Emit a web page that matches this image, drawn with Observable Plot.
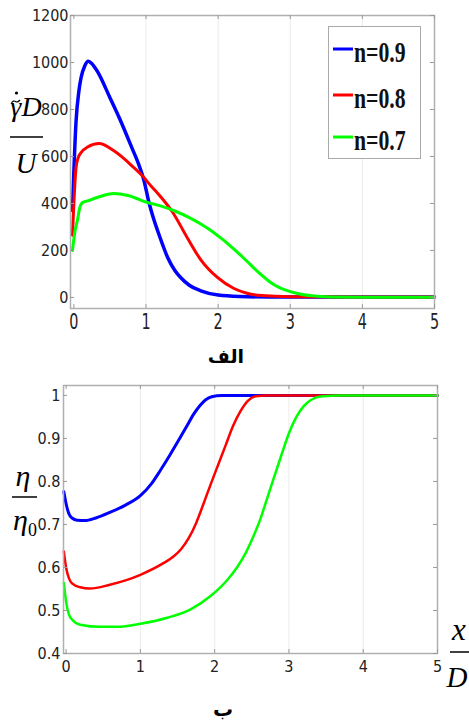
<!DOCTYPE html>
<html><head><meta charset="utf-8">
<script src="https://cdn.jsdelivr.net/npm/d3@7"></script>
<script src="https://cdn.jsdelivr.net/npm/@observablehq/plot@0.6"></script>
<style>
body{margin:0;background:#fff;}
#wrap{position:relative;width:469px;height:725px;overflow:hidden;background:#fff;}
#wrap > svg{position:absolute;left:0;}
</style></head><body><div id="wrap"></div>
<script>
// ---- data ----
const xTicks = [0, 1, 2, 3, 4, 5];
const gridX = [1, 2, 3, 4];
const shearTicks = [0, 200, 400, 600, 800, 1000, 1200];
const viscTicks = [0.4, 0.5, 0.6, 0.7, 0.8, 0.9, 1];
const seriesNames = ["n=0.9", "n=0.8", "n=0.7"];
const seriesColors = ["#0000ff", "#ff0000", "#00ff00"];

// top panel: dimensionless shear rate vs x/D
const shear09 = [[-0.02,370],[0.03,750],[0.07,880],[0.1,936],[0.15,985],[0.2,1005],[0.25,995],[0.33,960],[0.5,850],[0.65,750],[0.8,640],[0.9,565],[0.97,500],[1.04,405],[1.1,340],[1.16,285],[1.23,225],[1.3,170],[1.4,115],[1.48,85],[1.6,52],[1.76,28],[2.0,10],[2.3,4],[2.7,2],[5,2]];
const shear08 = [[-0.02,265],[0.03,553],[0.06,595],[0.1,617],[0.19,640],[0.35,655],[0.55,625],[0.83,553],[0.97,511],[1.02,492],[1.2,430],[1.36,367],[1.58,250],[1.76,160],[1.99,85],[2.22,38],[2.4,18],[2.6,8],[3.0,3],[5,2]];
const shear07 = [[-0.02,200],[0.02,290],[0.05,330],[0.08,380],[0.12,404],[0.2,412],[0.28,421],[0.4,433],[0.55,442],[0.75,434],[1.02,404],[1.2,390],[1.4,368],[1.6,340],[1.76,313],[1.9,285],[2.0,262],[2.1,238],[2.2,211],[2.3,183],[2.4,154],[2.5,124],[2.6,96],[2.7,70],[2.8,50],[2.9,35],[3.0,25],[3.15,14],[3.3,7],[3.56,2],[4,1],[5,1]];

// bottom panel: viscosity ratio vs x/D
const visc09 = [[-0.03,0.776],[0,0.748],[0.04,0.724],[0.08,0.715],[0.15,0.71],[0.25,0.709],[0.4,0.715],[0.59,0.728],[0.8,0.745],[1.0,0.767],[1.15,0.795],[1.27,0.826],[1.4,0.862],[1.54,0.903],[1.63,0.93],[1.72,0.957],[1.8,0.976],[1.88,0.99],[1.96,0.997],[2.1,1.0],[5,1.0]];
const visc08 = [[-0.03,0.637],[0,0.6],[0.04,0.574],[0.08,0.563],[0.19,0.554],[0.32,0.551],[0.59,0.56],[0.8,0.57],[1.0,0.583],[1.31,0.61],[1.45,0.626],[1.55,0.643],[1.65,0.668],[1.75,0.703],[1.85,0.748],[1.95,0.795],[2.05,0.84],[2.15,0.885],[2.25,0.93],[2.35,0.964],[2.45,0.988],[2.55,0.998],[2.7,1.0],[5,1.0]];
const visc07 = [[-0.03,0.564],[0,0.52],[0.04,0.49],[0.08,0.479],[0.19,0.467],[0.46,0.462],[0.69,0.462],[1.0,0.469],[1.36,0.483],[1.67,0.502],[1.94,0.533],[2.17,0.571],[2.3,0.6],[2.4,0.628],[2.5,0.664],[2.61,0.71],[2.7,0.757],[2.8,0.81],[2.9,0.862],[3.0,0.912],[3.1,0.95],[3.2,0.975],[3.3,0.99],[3.45,0.998],[3.7,1.0],[5,1.0]];

const topLabel = "الف";
const bottomLabel = "ب";

// ---- drawing ----
const W = 469;
const wrap = document.getElementById("wrap");
const tickFont = "'Liberation Sans Narrow','Arial Narrow','DejaVu Sans Condensed',sans-serif";
const rows = (arr) => arr.map(([x, y]) => ({x, y}));

function panel({h, m, xDomain, yDomain, yTicks, series, widths}) {
  const iw = W - m.left - m.right, ih = h - m.top - m.bottom;
  const marks = [Plot.ruleX(gridX, {stroke: "#ebebeb", strokeWidth: 1})];
  series.forEach((s, i) => marks.push(Plot.line(rows(s), {x: "x", y: "y", stroke: seriesColors[i], strokeWidth: widths[i], curve: "monotone-x"})));
  marks.push(
    Plot.frame({stroke: "#b0b0b0", strokeWidth: 1.5}),
    Plot.tickX(xTicks, {x: d => d, stroke: "#999", insetBottom: ih - 4}),
    Plot.tickX(xTicks, {x: d => d, stroke: "#999", insetTop: ih - 4}),
    Plot.tickY(yTicks, {y: d => d, stroke: "#999", insetLeft: iw - 4}),
    Plot.tickY(yTicks, {y: d => d, stroke: "#999", insetRight: iw - 4}),
    Plot.axisX(xTicks, {tickSize: 0, tickPadding: m.xPad, label: null, tickFormat: d => String(d)}),
    Plot.axisY(yTicks, {tickSize: 0, tickPadding: m.yPad, label: null, tickFormat: d => String(d)})
  );
  return Plot.plot({
    width: W, height: h,
    marginTop: m.top, marginBottom: m.bottom, marginLeft: m.left, marginRight: m.right,
    x: {domain: xDomain}, y: {domain: yDomain},
    style: {fontFamily: tickFont, fontSize: "16px", color: "#222", background: "transparent", overflow: "visible"},
    marks
  });
}

const topPlot = panel({h: 340, m: {top: 15, bottom: 32, left: 70, right: 35, xPad: 4, yPad: 2},
  xDomain: [-0.047, 5], yDomain: [-47, 1200], yTicks: shearTicks,
  series: [shear09, shear08, shear07], widths: [3.5, 3, 3]});
topPlot.style.top = "0px";
wrap.appendChild(topPlot);
// the reference's top-panel x tick labels are vertically stretched
topPlot.querySelectorAll('[aria-label^="x-axis"] text').forEach(t => {
  const b = t.getBBox();
  const cx = b.x + b.width / 2, ty = b.y + 1;
  const tr = t.getAttribute("transform") || "";
  t.setAttribute("transform", `${tr} translate(${cx},${ty}) scale(1,1.38) translate(${-cx},${-ty})`);
});

const botPlot = panel({h: 320, m: {top: 15, bottom: 37, left: 63, right: 32, xPad: 7, yPad: 3},
  xDomain: [-0.035, 5], yDomain: [0.4, 1.023], yTicks: viscTicks,
  series: [visc09, visc08, visc07], widths: [3, 2.5, 2.5]});
botPlot.style.top = "370px";
wrap.appendChild(botPlot);

// ---- overlay: legend, axis titles, panel labels ----
const ov = d3.select(wrap).append("svg").attr("width", W).attr("height", 725)
  .style("top", "0px").style("pointer-events", "none");
const serif = "'Liberation Serif','DejaVu Serif',serif";

// legend
const lg = ov.append("g");
lg.append("rect").attr("x", 328.5).attr("y", 26.5).attr("width", 92).attr("height", 132)
  .attr("fill", "#fff").attr("stroke", "#aaa").attr("stroke-width", 1);
const legY = [49, 95, 137];
seriesNames.forEach((name, i) => {
  lg.append("line").attr("x1", 333).attr("x2", 353).attr("y1", legY[i]).attr("y2", legY[i])
    .attr("stroke", seriesColors[i]).attr("stroke-width", 3);
  lg.append("text").attr("transform", `translate(354,${legY[i] + 13}) scale(0.75,1)`)
    .attr("font-family", serif).attr("font-weight", "bold").attr("font-size", 29)
    .attr("fill", "#111").text(name);
});

// top y title: gamma (tilde, dot) D / U
const yt = ov.append("g").attr("font-family", serif).attr("font-style", "italic").attr("fill", "#000");
yt.append("text").attr("x", 26).attr("y", 116).attr("text-anchor", "middle").attr("font-size", 28).text("γD");
yt.append("path").attr("d", "M11.5,103 q2,-3 4,-1.5 t4.5,-1.5").attr("fill", "none").attr("stroke", "#000").attr("stroke-width", 1.2);
yt.append("circle").attr("cx", 16.5).attr("cy", 93).attr("r", 1.6).attr("fill", "#000");
yt.append("line").attr("x1", 10).attr("x2", 43).attr("y1", 137).attr("y2", 137).attr("stroke", "#000").attr("stroke-width", 1.5);
yt.append("text").attr("x", 26).attr("y", 173).attr("text-anchor", "middle").attr("font-size", 29).text("U");

// bottom y title: eta / eta0
const yb = ov.append("g").attr("font-family", serif).attr("font-style", "italic").attr("fill", "#000");
yb.append("text").attr("x", 23).attr("y", 486).attr("text-anchor", "middle").attr("font-size", 30).text("η");
yb.append("line").attr("x1", 12).attr("x2", 37).attr("y1", 497).attr("y2", 497).attr("stroke", "#000").attr("stroke-width", 1.5);
const e0 = yb.append("text").attr("x", 13).attr("y", 530).attr("font-size", 30);
e0.append("tspan").text("η");
e0.append("tspan").attr("font-style", "normal").attr("font-size", 18).attr("dy", 6).text("0");

// x title: x / D
const xt = ov.append("g").attr("font-family", serif).attr("font-style", "italic").attr("fill", "#000");
xt.append("text").attr("x", 459).attr("y", 640).attr("text-anchor", "middle").attr("font-size", 31).text("x");
xt.append("line").attr("x1", 450).attr("x2", 469).attr("y1", 652).attr("y2", 652).attr("stroke", "#000").attr("stroke-width", 1.5);
xt.append("text").attr("x", 457).attr("y", 687).attr("text-anchor", "middle").attr("font-size", 29).text("D");

// panel labels (Arabic)
ov.append("text").attr("x", 226).attr("y", 363).attr("text-anchor", "middle")
  .attr("font-family", "'DejaVu Sans',sans-serif").attr("font-weight", "bold").attr("font-size", 19)
  .attr("fill", "#000").attr("direction", "rtl").text(topLabel);
ov.append("text").attr("x", 223).attr("y", 716).attr("text-anchor", "middle")
  .attr("font-family", "'DejaVu Sans',sans-serif").attr("font-weight", "bold").attr("font-size", 20)
  .attr("fill", "#000").attr("direction", "rtl").text(bottomLabel);
</script></body></html>
